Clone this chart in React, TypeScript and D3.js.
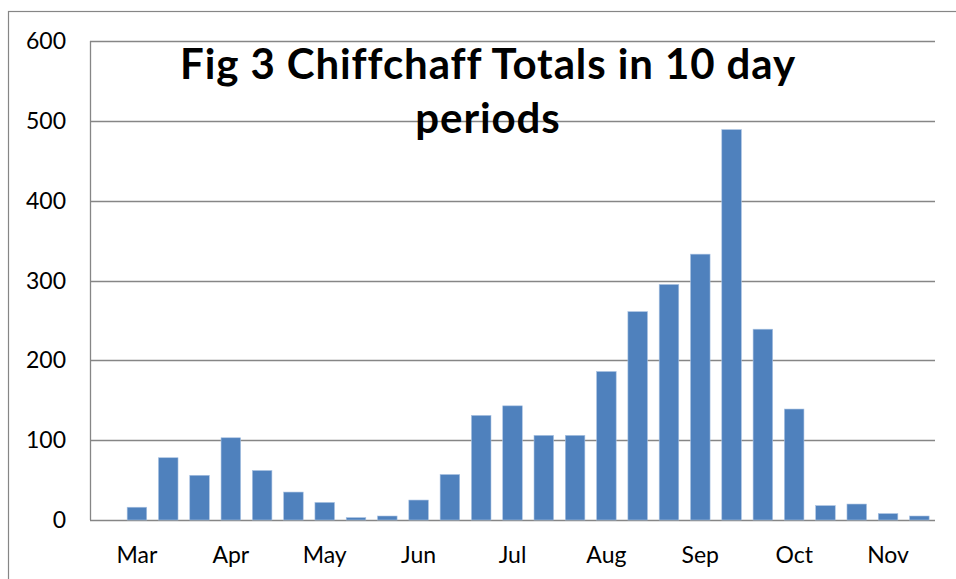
import * as d3 from 'd3';

// 10-day periods, three per month (early / mid / late)
const months = ['Mar', 'Apr', 'May', 'Jun', 'Jul', 'Aug', 'Sep', 'Oct', 'Nov'];
const periods = months.flatMap(m => [`${m} 1`, `${m} 2`, `${m} 3`]);
const totals: (number | null)[] = [
    null, 16, 78,
    56, 103, 62,
    35, 22, 3,
    5, 25, 57,
    131, 143, 106,
    106, 186, 261,
    295, 333, 489,
    239, 139, 18,
    20, 8, 5,
];
const yTicks = [0, 100, 200, 300, 400, 500, 600];
const titleLines = ['Fig 3 Chiffchaff Totals in 10 day', 'periods'];

const W = 956;
const H = 579;
const FONT = 'Lato, "Open Sans", sans-serif';

export default function App() {
    const margin = { top: 41, right: 21, bottom: 59, left: 90 };

    const x = d3.scaleBand<string>()
        .domain(periods)
        .range([margin.left, W - margin.right])
        .paddingInner(0.375)
        .paddingOuter(0.1875);

    const y = d3.scaleLinear()
        .domain([0, 600])
        .range([H - margin.bottom, margin.top]);

    const grid = '#868686';

    return (
        <svg width={W} height={H} style={{ position: 'absolute', left: 0, top: 0 }} fontFamily={FONT}>
            <rect x={0} y={0} width={W} height={H} fill="#fff" />
            {/* chart frame, cropped on the right and bottom */}
            <rect x={8.5} y={11.5} width={W + 20} height={H + 20} fill="none" stroke={grid} strokeWidth={1.2} />

            {/* gridlines */}
            {yTicks.map(t => (
                <line key={t} x1={margin.left} x2={W - margin.right}
                    y1={Math.round(y(t)) + 0.5} y2={Math.round(y(t)) + 0.5}
                    stroke={grid} strokeWidth={1.3} />
            ))}
            <line x1={margin.left + 0.5} x2={margin.left + 0.5} y1={y(600)} y2={y(0)} stroke={grid} strokeWidth={1.3} />

            {/* y labels */}
            {yTicks.map(t => (
                <text key={t} x={66} y={y(t)} dy="0.35em" textAnchor="end" fontSize={23} fill="#000">{t}</text>
            ))}

            {/* bars */}
            {periods.map((p, i) => {
                const v = totals[i];
                if (v == null) return null;
                return (
                    <rect key={p} x={x(p)} y={y(v)} width={x.bandwidth()} height={y(0) - y(v)}
                        fill="#4F81BD" stroke="#A9C2E2" strokeWidth={0.6} />
                );
            })}

            {/* month labels, centred under the middle period */}
            {months.map(m => (
                <text key={m} x={(x(`${m} 2`) ?? 0) + x.bandwidth() / 2} y={555} dy="0.35em"
                    textAnchor="middle" fontSize={23} fill="#000">{m}</text>
            ))}

            {/* title */}
            {titleLines.map((line, i) => (
                <text key={i} x={488} y={79 + i * 54} textAnchor="middle" fontSize={42}
                    letterSpacing={0.9} fontWeight="bold" fill="#000">{line}</text>
            ))}
        </svg>
    );
}
